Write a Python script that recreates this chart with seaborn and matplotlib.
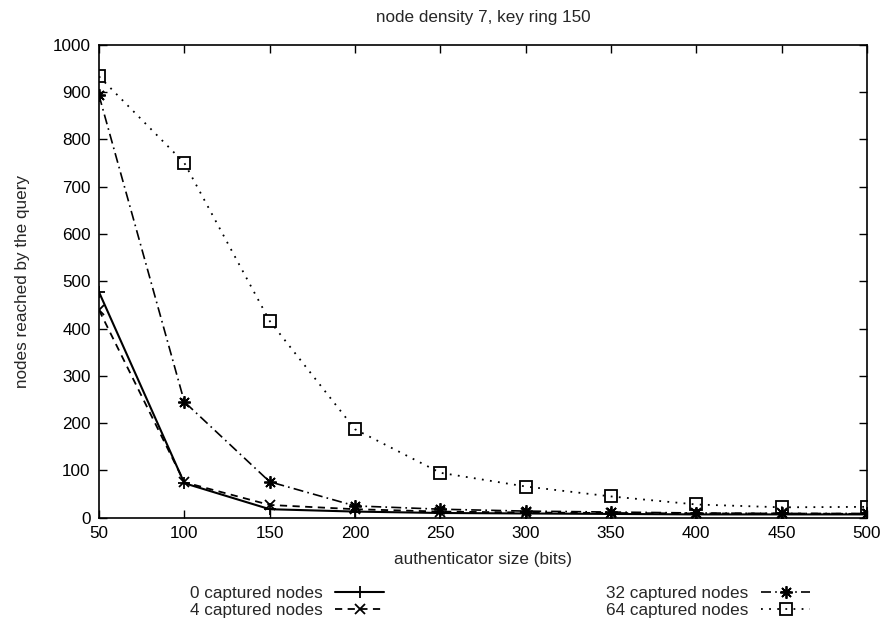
import matplotlib
matplotlib.use("Agg")
import matplotlib.pyplot as plt
import seaborn as sns
import pandas as pd

auth_bits = [50, 100, 150, 200, 250, 300, 350, 400, 450, 500]
captured_0 = [477, 73, 18, 13, 10, 9, 8, 7, 7, 7]
captured_4 = [439, 75, 27, 18, 13, 11, 10, 9, 9, 8]
captured_32 = [893, 245, 76, 25, 18, 14, 12, 10, 9, 9]
captured_64 = [933, 750, 416, 187, 95, 66, 45, 28, 22, 23]
series_names = ["0 captured nodes", "4 captured nodes", "32 captured nodes", "64 captured nodes"]
title = "node density 7, key ring 150"
xlabel = "authenticator size (bits)"
ylabel = "nodes reached by the query"

sns.set_style("ticks")
plt.rcParams['font.family'] = ['Liberation Sans', 'DejaVu Sans']

FS = 12.3
fig = plt.figure(figsize=(8.92, 6.28), dpi=100)
ax = fig.add_axes([0.111, 0.1756, 0.861, 0.7532])

styles = [
    dict(linestyle='-', marker='+', markersize=9, markeredgewidth=1.3),
    dict(linestyle=(0, (4, 3)), marker='x', markersize=7, markeredgewidth=1.3),
    dict(linestyle=(0, (6, 2.5, 1, 2.5)), marker=(8, 2, 0), markersize=9, markeredgewidth=1.3),
    dict(linestyle=(0, (1, 3.5)), marker='s', markersize=8, markeredgewidth=1.3, fillstyle='none'),
]
lws = [1.5, 1.3, 1.2, 1.3]
for vals, name, st, lw in zip([captured_0, captured_4, captured_32, captured_64], series_names, styles, lws):
    df = pd.DataFrame({"x": auth_bits, "y": vals})
    sns.lineplot(data=df, x="x", y="y", ax=ax, color='black', linewidth=lw,
                 label=name, markeredgecolor='black', **st)

ax.set_xlim(50, 500)
ax.set_ylim(0, 1000)
ax.set_xticks(auth_bits)
ax.set_yticks(range(0, 1001, 100))
ax.tick_params(direction='in', length=6, width=1, top=True, right=True, labelsize=FS, pad=6, colors='black')
for s in ax.spines.values():
    s.set_linewidth(1.2)
    s.set_color('black')
ax.set_title(title, fontsize=FS, pad=16)
ax.set_xlabel(xlabel, fontsize=FS, labelpad=8)
ax.set_ylabel(ylabel, fontsize=FS, labelpad=16)

handles, labels = ax.get_legend_handles_labels()
ax.legend(handles, labels, loc='upper center', bbox_to_anchor=(0.522, -0.13), ncol=2,
          frameon=False, markerfirst=False, numpoints=1, handlelength=2.85,
          columnspacing=13.0, fontsize=FS, labelspacing=0.1, handletextpad=0.75,
          borderaxespad=0)

fig.savefig("out.png", dpi=100)
